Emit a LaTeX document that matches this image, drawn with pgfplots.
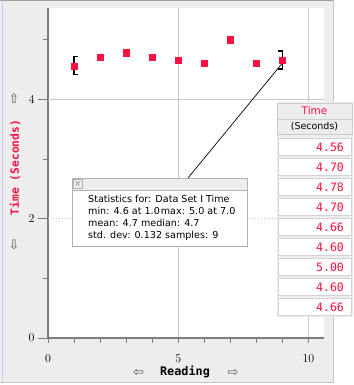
\documentclass[border=0pt]{standalone}
\usepackage{pgfplots}
\usepackage{pgfplotstable}
\pgfplotsset{compat=1.18}
\usepackage{fontspec}
\setmainfont{DejaVu Sans}
\newfontfamily\mono{DejaVu Sans Mono}
\definecolor{mred}{RGB}{255,16,64}
\definecolor{bgg}{RGB}{237,237,237}
\definecolor{gridg}{RGB}{200,200,200}
\definecolor{axg}{RGB}{125,125,125}
\definecolor{lav}{RGB}{200,200,235}

\pgfdeclareplotmark{lbr}{%
 \pgfpathmoveto{\pgfqpoint{4pt}{9pt}}\pgfpathlineto{\pgfqpoint{0pt}{9pt}}%
 \pgfpathlineto{\pgfqpoint{0pt}{-9pt}}\pgfpathlineto{\pgfqpoint{4pt}{-9pt}}\pgfusepathqstroke}
\pgfdeclareplotmark{rbr}{%
 \pgfpathmoveto{\pgfqpoint{-4pt}{9pt}}\pgfpathlineto{\pgfqpoint{0pt}{9pt}}%
 \pgfpathlineto{\pgfqpoint{0pt}{-9pt}}\pgfpathlineto{\pgfqpoint{-4pt}{-9pt}}\pgfusepathqstroke}

\pgfplotstableread{
x y
1 4.56
2 4.70
3 4.78
4 4.70
5 4.66
6 4.60
7 5.00
8 4.60
9 4.66
}\timedata

\tikzset{px/.style={x=1pt,y=-1pt,yshift=385pt}}

\begin{document}
\begin{tikzpicture}
\path[use as bounding box] (0,0) rectangle (353pt,385pt);
\begin{scope}[px]
 \fill[white] (0,0) rectangle (353,385);
 \fill[bgg] (0,0) rectangle (333,383);
 \draw[gray!75, line width=1pt] (0,0.5) -- (333,0.5);
 \draw[lav, line width=1pt] (2.5,0) -- (2.5,383);
 \draw[gray!45, line width=1pt] (333,0) -- (333,383) -- (0,383);
\end{scope}

\begin{axis}[
 at={(48pt,47pt)}, anchor=south west,
 scale only axis, width=276pt, height=330pt,
 xmin=0, xmax=10.6, ymin=0, ymax=5.53,
 axis x line=bottom, axis y line=left,
 axis line style={-, axg, line width=2pt},
 axis background/.style={fill=white},
 xtick={0,5,10}, minor xtick={1,2,3,4,6,7,8,9},
 ytick={0,2,4}, minor ytick={1,3,5},
 tick align=outside,
 major tick length=10pt, minor tick length=5pt,
 xtick style={/pgfplots/major tick length=5pt},
 every tick/.style={axg, line width=0.8pt},
 xmajorgrids, major x grid style={gridg, line width=0.8pt},
 tick label style={font=\mono\fontsize{13}{13}\selectfont},
 xticklabel style={yshift=-3pt},
 clip=false,
]
\draw[gridg, line width=0.8pt] (axis cs:0,4) -- (axis cs:10.6,4);
\draw[gridg, line width=0.8pt, dotted] (axis cs:0,2) -- (axis cs:10.6,2);
\addplot[only marks, mark=lbr, black, line width=1.2pt] coordinates {(1,4.56)};
\addplot[only marks, mark=rbr, black, line width=1.2pt] coordinates {(9,4.66)};
\addplot[only marks, mark=square*, mark size=3.1pt, mred, mark options={draw=mred, fill=mred}] table[x=x,y=y] {\timedata};
\coordinate (p9) at (axis cs:8.97,4.59);
\end{axis}

\begin{scope}[px]
 % axis labels
 \node[font=\mono\bfseries\fontsize{11.8}{12}\selectfont] at (185,372) {Reading};
 \node[black!65, font=\fontsize{13}{13}\selectfont] at (138.5,373) {⇦};
 \node[black!65, font=\fontsize{13}{13}\selectfont] at (233,373) {⇨};
 \node[rotate=90, mred, font=\mono\bfseries\fontsize{11.3}{12}\selectfont] at (15,167.5) {Time (Seconds)};
 \node[black!65, font=\fontsize{13}{13}\selectfont] at (14,99) {⇧};
 \node[black!65, font=\fontsize{13}{13}\selectfont] at (14,245) {⇩};
 % leader line
 \draw[black, line width=0.7pt] (p9) -- (188,178);
 % stats box
 \draw[gray!60, fill=white] (72,178) rectangle (247,246);
 \draw[gray!60, fill=bgg] (72,178) rectangle (247,190);
 \draw[gray!60, fill=bgg] (73.5,179.5) rectangle (82.5,188.5);
 \node[gray, font=\fontsize{8}{8}\selectfont, inner sep=0pt] at (78,184) {×};
 \begin{scope}[every node/.style={anchor=base west, inner sep=0pt, font=\fontsize{9.6}{12}\selectfont}]
  \node at (88,202.5) {Statistics for: Data Set I Time};
  \node at (88,214.5) {min: 4.6 at 1.0\hspace{1pt}max: 5.0 at 7.0};
  \node at (88,226.5) {mean: 4.7 median: 4.7};
  \node at (88,238.5) {std. dev: 0.132 samples: 9};
 \end{scope}
 % table
 \fill[bgg] (276.5,102.5) rectangle (352.5,317);
 \draw[gray!40, fill=bgg] (277,103) rectangle (352,119);
 \node[mred, font=\fontsize{10.5}{11}\selectfont] at (314.5,111) {Time};
 \draw[gray!40, fill=bgg] (277,119) rectangle (352,134);
 \node[black, font=\fontsize{9.5}{10}\selectfont] at (314.5,126.5) {(Seconds)};
 \foreach \v [count=\i from 0] in {4.56,4.70,4.78,4.70,4.66,4.60,5.00,4.60,4.66} {
  \draw[gray!35, fill=white] (278,138.5+20*\i) rectangle (351,155.5+20*\i);
  \node[anchor=east, mred, font=\mono\fontsize{11.6}{12}\selectfont] at (347.5,147+20*\i) {\v};
 }
\end{scope}
\end{tikzpicture}
\end{document}
